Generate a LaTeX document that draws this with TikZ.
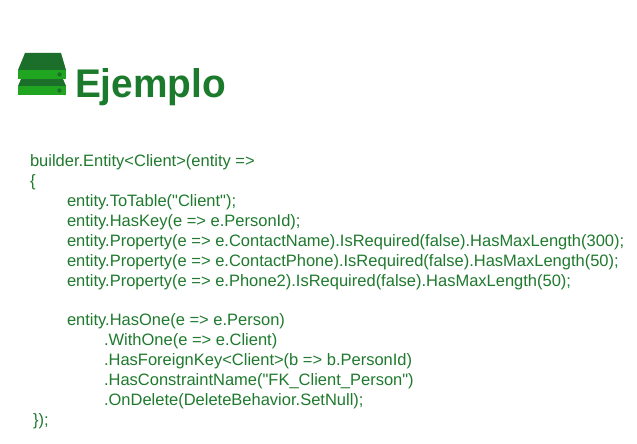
\documentclass[tikz,border=0pt]{standalone}
\usepackage{fontspec}
\setmainfont{Liberation Sans}[Ligatures=TeXOff]
\definecolor{codegreen}{HTML}{1F7A2E}
\definecolor{titlegreen}{HTML}{1B7A2C}
\definecolor{iconlight}{HTML}{1FA51F}
\definecolor{icondark}{HTML}{1C6F2A}
\begin{document}
\begin{tikzpicture}[x=1pt,y=-1pt,
  codeline/.style={anchor=base west,inner sep=0pt,outer sep=0pt,text=codegreen,font=\fontsize{16.5}{18}\selectfont},
  titletext/.style={anchor=base west,inner sep=0pt,outer sep=0pt,text=titlegreen,xscale=.97,font=\fontsize{40}{42}\selectfont\bfseries}]
\useasboundingbox (0,0) rectangle (637,444);
\fill[white] (0,0) rectangle (637,444);
% icon
\fill[icondark] (25,53) -- (61,53) -- (66,70) -- (18,70) -- cycle;
\fill[iconlight] (18,70) rectangle (66,79);
\fill[icondark] (59.5,74.5) circle (2.2);
\fill[icondark] (21,79) -- (63,79) -- (66,86) -- (18,86) -- cycle;
\fill[iconlight] (18,86) rectangle (66,95);
\fill[icondark] (59.5,90.5) circle (2.2);
% title
\node[titletext] (title) at (75,97) {Ejemplo};
% code
\node[codeline] (l1) at (30,166) {builder.Entity<Client>(entity =>};
\node[codeline] (l2) at (30,186) {\{};
\node[codeline] (l4) at (67,206) {entity.ToTable("Client");};
\node[codeline] (l5) at (67,226) {entity.HasKey(e => e.PersonId);};
\node[codeline] (l6) at (67,246) {entity.Property(e => e.ContactName).IsRequired(false).HasMaxLength(300);};
\node[codeline] (l7) at (67,266) {entity.Property(e => e.ContactPhone).IsRequired(false).HasMaxLength(50);};
\node[codeline] (l8) at (67,286) {entity.Property(e => e.Phone2).IsRequired(false).HasMaxLength(50);};
\node[codeline] (l9) at (67,325) {entity.HasOne(e => e.Person)};
\node[codeline] (l10) at (104,345) {.WithOne(e => e.Client)};
\node[codeline] (l11) at (104,365) {.HasForeignKey<Client>(b => b.PersonId)};
\node[codeline] (l12) at (104,385) {.HasConstraintName("FK\_Client\_Person")};
\node[codeline] (l13) at (104,405) {.OnDelete(DeleteBehavior.SetNull);};
\node[codeline] (l14) at (33,425) {\});};
\end{tikzpicture}
\end{document}
